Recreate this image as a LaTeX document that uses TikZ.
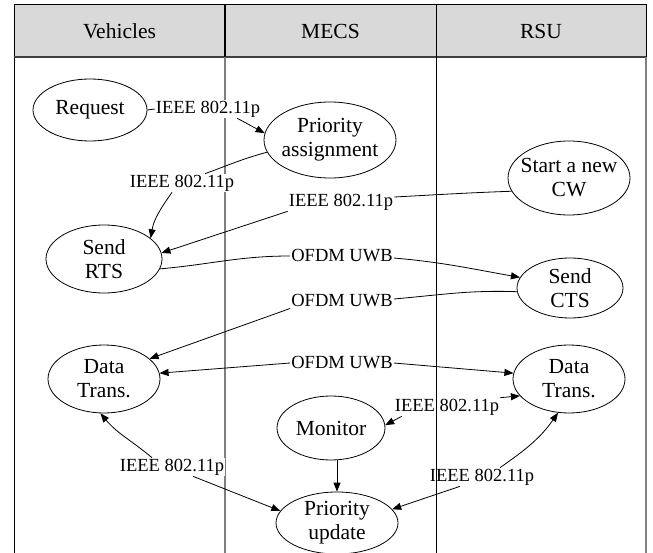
\documentclass[tikz,border=0pt]{standalone}
\usepackage{fontspec}
\setmainfont{Liberation Serif}
\usetikzlibrary{shapes.geometric,arrows.meta}
\definecolor{headgray}{HTML}{D9D9D9}
\definecolor{lanegray}{HTML}{7F7F7F}
\begin{document}
\begin{tikzpicture}[x=1pt,y=-1pt,
  state/.style={ellipse,draw,line width=0.8pt,inner xsep=-12pt,inner ysep=-6pt,
    align=center,font=\fontsize{21.5}{24}\selectfont},
  heading/.style={font=\fontsize{21.5}{24}\selectfont},
  proto/.style={fill=white,inner sep=1pt,font=\fontsize{18.5}{20}\selectfont},
  link/.style={line width=0.8pt},
  msg/.style={link,-{Triangle[length=9pt,width=7pt]}}]

\useasboundingbox (0,0) rectangle (653,553);

% swimlane header and frame
\fill[headgray] (14,5) rectangle (646,57);
\draw[line width=1pt] (14,553) -- (14,5) -- (646,5) -- (646,57);
\draw[line width=1.2pt,black!75] (14,57) -- (646,57);
\draw[line width=1.3pt,lanegray] (646,57) -- (646,553);
\draw[line width=1.3pt] (225,5) -- (225,57);
\draw[line width=1.3pt,lanegray] (225,57) -- (225,553);

\node[heading] (hv) at (119.5,31) {Vehicles};
\node[heading] (hm) at (330.5,31) {MECS};
\node[heading] (hr) at (541,31) {RSU};

% states
\node[state,minimum width=114pt,minimum height=62pt] (req) at (90,110) {Request};
\node[state,minimum width=132pt,minimum height=76pt] (pa)  at (330,140) {Priority\\assignment};
\node[state,minimum width=122pt,minimum height=74pt] (cw)  at (569,178) {Start a new\\CW};
\node[state,minimum width=116pt,minimum height=68pt] (rts) at (104,259) {Send\\RTS};
\node[state,minimum width=106pt,minimum height=60pt] (cts) at (570,288) {Send\\CTS};
\node[state,minimum width=112pt,minimum height=68pt] (dl)  at (104,379) {Data\\Trans.};
\node[state,minimum width=112pt,minimum height=68pt] (dr)  at (569,379) {Data\\Trans.};
\node[state,minimum width=108pt,minimum height=64pt] (mon) at (331,428) {Monitor};
\node[state,minimum width=122pt,minimum height=62pt] (pu)  at (337,523) {Priority\\update};

% link labels
\node[proto] (l1) at (208,109) {IEEE 802.11p};
\node[proto] (l2) at (182,183) {IEEE 802.11p};
\node[proto] (l3) at (341,202) {IEEE 802.11p};
\node[proto] (l4) at (342,256) {OFDM UWB};
\node[proto] (l5) at (342,301) {OFDM UWB};
\node[proto] (l6) at (342,363) {OFDM UWB};
\node[proto] (l7) at (447,407) {IEEE 802.11p};
\node[proto] (l8) at (172,467) {IEEE 802.11p};
\node[proto] (l9) at (482,477) {IEEE 802.11p};

% message flows
\draw[link] (req.east) -- (l1.west);
\draw[msg] ([xshift=-24pt]l1.south east) -- (pa.174);
\draw[link] (pa.191) to[out=195,in=20] ([xshift=23pt]l2.north);
\draw[msg] ([xshift=-10pt]l2.south) to[out=235,in=80] (rts.24);
\draw[link] (cw.193) to[out=182,in=3] ([yshift=5pt]l3.east);
\draw[msg] (l3.south west) -- (rts.6);
\draw[link] (rts.350) to[out=5,in=180] (l4.west);
\draw[msg] ([yshift=-2pt]l4.east) to[out=-5,in=170] (cts.168);
\draw[link] (cts.184) to[out=178,in=5] ([yshift=2pt]l5.east);
\draw[msg] (l5.south west) -- (dl.24);
\draw[msg] (l6.west) -- (dl.6);
\draw[msg] (l6.east) -- (dr.174);
\draw[msg] (l7.north east) -- (dr.199);
\draw[msg] ([xshift=8pt]l7.south west) -- (mon.3);
\draw[msg] (mon.south -| pu.north) -- (pu.north);
\draw[msg] ([xshift=-20pt]l8.north) to[out=140,in=-50] (dl.264);
\draw[msg] ([xshift=21pt]l8.south) -- (pu.168);
\draw[msg] ([xshift=18pt]l9.north) to[out=35,in=-125] (dr.252);
\draw[msg] ([xshift=-22pt]l9.south) -- (pu.14);

% MECS / RSU lane divider
\draw[line width=1pt] (436,5) -- (436,553);
\end{tikzpicture}
\end{document}
